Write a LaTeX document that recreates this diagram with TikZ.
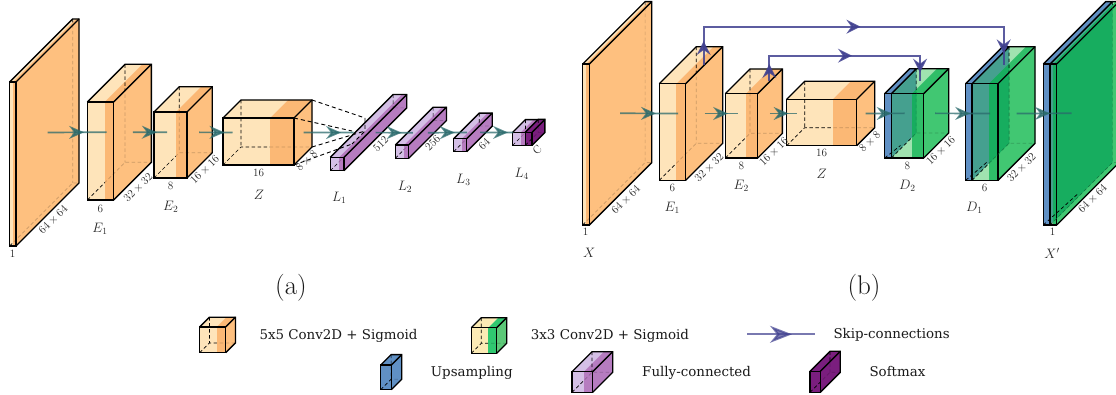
\documentclass[tikz,border=0pt]{standalone}
\usepackage{fontspec}
\newfontfamily\legendfont{DejaVu Serif}
\usetikzlibrary{arrows.meta, decorations.markings}
\definecolor{convlight}{HTML}{FEE4BA}
\definecolor{convdark}{HTML}{FBB875}
\definecolor{convside}{HTML}{FEC07F}
\definecolor{greenlight}{HTML}{A0E3B0}
\definecolor{greendark}{HTML}{2FBE68}
\definecolor{greenside}{HTML}{41C772}
\definecolor{mixlight}{HTML}{45A08F}
\definecolor{mixdark}{HTML}{17AD5F}
\definecolor{mixside}{HTML}{17AD5F}
\definecolor{keylight}{HTML}{FCEBB5}
\definecolor{keydark}{HTML}{30C870}
\definecolor{keyside}{HTML}{5CC878}
\definecolor{fclight}{HTML}{D4BFE6}
\definecolor{fcdark}{HTML}{B67CC0}
\definecolor{fcside}{HTML}{B67CC0}
\definecolor{softlight}{HTML}{7A1E7E}
\definecolor{softdark}{HTML}{7A1E7E}
\definecolor{softside}{HTML}{7A1E7E}
\definecolor{uplight}{HTML}{6090C4}
\definecolor{updark}{HTML}{6090C4}
\definecolor{upside}{HTML}{6090C4}
\definecolor{flowcol}{HTML}{2A6A6C}
\definecolor{skipcol}{HTML}{40408F}

% faces: x, y, width, height, depth, split, colour family
\newcommand{\cuboidfaces}[7]{
    \fill[#7light] (#1,#2) rectangle (#1+#6,#2+#4);
    \fill[#7light] (#1,#2) -- (#1+#6,#2) -- (#1+#6+#5,#2-#5) -- (#1+#5,#2-#5) -- cycle;
    \fill[#7dark] (#1+#6,#2) rectangle (#1+#3,#2+#4);
    \fill[#7dark] (#1+#6,#2) -- (#1+#3,#2) -- (#1+#3+#5,#2-#5) -- (#1+#6+#5,#2-#5) -- cycle;
    \fill[#7side] (#1+#3,#2) -- (#1+#3+#5,#2-#5) -- (#1+#3+#5,#2+#4-#5) -- (#1+#3,#2+#4) -- cycle;
    \draw[hidden] (#1,#2+#4) -- (#1+#5,#2+#4-#5) -- (#1+#3+#5,#2+#4-#5) (#1+#5,#2-#5) -- (#1+#5,#2+#4-#5);
    \fill[#7dark, opacity=0.8] (#1+#6,#2) rectangle (#1+#3,#2+#4);
    \fill[#7side, opacity=0.8] (#1+#3,#2) -- (#1+#3+#5,#2-#5) -- (#1+#3+#5,#2+#4-#5) -- (#1+#3,#2+#4) -- cycle;
}
% edges: x, y, width, height, depth
\newcommand{\cuboidedges}[5]{
    \draw[edge] (#1,#2) rectangle (#1+#3,#2+#4);
    \draw[edge] (#1,#2) -- (#1+#5,#2-#5) -- (#1+#3+#5,#2-#5) -- (#1+#3+#5,#2+#4-#5) -- (#1+#3,#2+#4);
    \draw[edge] (#1+#3,#2) -- (#1+#3+#5,#2-#5);
}
% name, x, y, width, height, depth, split, colour family
\newcommand{\cuboid}[8]{
    \cuboidfaces{#2}{#3}{#4}{#5}{#6}{#7}{#8}
    \cuboidedges{#2}{#3}{#4}{#5}{#6}
    \coordinate (#1) at (#2+#4/2+#6/2,#3+#5/2-#6/2);
    \coordinate (#1-a) at (#2+#4,#3);
    \coordinate (#1-b) at (#2+#4+#6,#3-#6);
    \coordinate (#1-c) at (#2+#4+#6,#3+#5-#6);
    \coordinate (#1-d) at (#2+#4,#3+#5);
}
% name, x, y, plate width, green width, height, depth, split
\newcommand{\upcuboid}[8]{
    \cuboid{#1}{#2+#4}{#3}{#5}{#6}{#7}{#8}{green}
    \begin{scope}
        \clip (#2+#4,#3) -- (#2+#4+#7,#3-#7) -- (#2+#4+#7,#3+#6-#7) -- (#2+#4,#3+#6) -- cycle;
        \cuboidfaces{#2+#4}{#3}{#5}{#6}{#7}{#8}{mix}
        \cuboidedges{#2+#4}{#3}{#5}{#6}{#7}
    \end{scope}
    \fill[uplight] (#2,#3) rectangle (#2+#4,#3+#6);
    \fill[uplight] (#2,#3) -- (#2+#4,#3) -- (#2+#4+#7,#3-#7) -- (#2+#7,#3-#7) -- cycle;
    \draw[hidden] (#2,#3+#6) -- (#2+#4/2+#7/2,#3+#6-#7/2);
    \draw[edge] (#2,#3) rectangle (#2+#4,#3+#6);
    \draw[edge] (#2,#3) -- (#2+#7,#3-#7) -- (#2+#4+#7,#3-#7) (#2+#4,#3) -- (#2+#4+#7,#3-#7);
}

\begin{document}
\begin{tikzpicture}[
    x=1pt, y=-1pt,
    edge/.style={draw=black, line width=1.35pt, line join=miter},
    hidden/.style={draw=black, line width=0.7pt, dash pattern=on 3.5pt off 2.5pt},
    funnel/.style={draw=black, line width=0.9pt, dash pattern=on 4pt off 3pt},
    flow/.style={draw=flowcol, line width=1.7pt, opacity=0.75,
        postaction={decorate, decoration={markings,
            mark=at position #1 with {\arrow[flowcol]{Stealth[length=15pt, width=13pt, inset=5pt]}}}}},
    skip/.style n args={3}{draw=skipcol, line width=1.8pt, opacity=0.85,
        postaction={decorate, decoration={markings,
            mark=at position #1pt with {\arrow[skipcol]{Stealth[length=14pt, width=14pt, inset=5pt]}},
            mark=at position #2pt with {\arrow[skipcol]{Stealth[length=14pt, width=14pt, inset=5pt]}},
            mark=at position #3pt with {\arrow[skipcol]{Stealth[length=14pt, width=14pt, inset=5pt]}}}}},
    skipkey/.style={draw=skipcol, line width=2pt, opacity=0.7,
        postaction={decorate, decoration={markings,
            mark=at position 0.66 with {\arrow[skipcol]{Stealth[length=22pt, width=17pt, inset=7pt]}}}}},
    lbl/.style={font=\Large, text=black!85, inner sep=0pt, scale=0.78},
    dim/.style={lbl, rotate=45},
    title/.style={font=\Large, text=black!85, inner sep=0pt, scale=0.95},
    sub/.style={font=\fontsize{27}{32}\selectfont, text=black!90, inner sep=0pt},
    key/.style={font=\legendfont\fontsize{13.4}{16}\selectfont, text=black!90, anchor=base west, inner sep=0pt},
]
\clip (0,0) rectangle (1116,395);

% ===== (a) classifier =====
\cuboid{aX}{9.7}{82}{6.3}{164}{63}{3.3}{conv}
\cuboid{aE1}{87.3}{102}{26.4}{98}{37.7}{17.4}{conv}
\cuboid{aE2}{154}{112}{33}{66}{25.3}{22}{conv}
\cuboid{aZ}{223}{118}{71}{47}{18}{47}{conv}
\cuboid{aL1}{330.3}{157.3}{13.7}{13.4}{62.8}{8.7}{fc}
\cuboid{aL2}{395.3}{145}{13.4}{13.3}{37.8}{8.7}{fc}
\cuboid{aL3}{453.7}{138.7}{13}{13}{25.6}{8.3}{fc}
\cuboid{aL4}{512.7}{132.3}{12.6}{13}{12.7}{8}{fc}
\cuboid{aC}{525.3}{132.3}{6.7}{13}{12.9}{6.7}{soft}

% --- funnel from Z into L1 ---
\coordinate (slicea) at (365,118);
\coordinate (sliceb) at (352,131);
\coordinate (slicec) at (365,131);
\coordinate (sliced) at (352,144);
\draw[funnel] (aZ-b) -- (slicea);
\draw[funnel] (aZ-a) -- (sliceb);
\draw[funnel] (aZ-c) -- (slicec);
\draw[funnel] (aZ-d) -- (sliced);
\draw[funnel] (slicea) -- (slicec) -- (sliced);

% arrows
\draw[flow=0.62] ([xshift=3.2pt]aX) -- ([xshift=-12.8pt]aE1);
\draw[flow=0.7] ([xshift=13.5pt]aE1) -- ([xshift=-16pt]aE2);
\draw[flow=0.76] ([xshift=16pt]aE2) -- ([xshift=-35pt]aZ);
\draw[flow=0.75] ([xshift=36pt]aZ) -- ([xshift=-15pt]aL1);
\draw[flow=0.7] ([xshift=7pt]aL1) -- ([xshift=-8pt]aL2);
\draw[flow=0.69] ([xshift=7pt]aL2) -- ([xshift=-6pt]aL3);
\draw[flow=0.84] ([xshift=7pt]aL3) -- ([xshift=-12pt]aL4);

% labels
\node[lbl] (aX1) at (12.7,254) {$1$};
\node[dim] (aX2) at (53.3,220) {$64\times 64$};
\node[lbl] (aE11) at (100.3,208.7) {$6$};
\node[dim] (aE12) at (138.3,187.7) {$32\times 32$};
\node[title] (aE13) at (100,229) {$E_1$};
\node[lbl] (aE21) at (170.7,186) {$8$};
\node[dim] (aE22) at (205,170) {$16\times 16$};
\node[title] (aE23) at (170.7,206.7) {$E_2$};
\node[lbl] (aZ1) at (258.7,173) {$16$};
\node[title] (aZ2) at (259,194.7) {$Z$};
\node[dim] (aZ3) at (306.7,161) {$8\times 8$};
\node[title] (aL11) at (339.3,198.3) {$L_1$};
\node[dim] (aL12) at (380.7,144) {$512$};
\node[title] (aL21) at (405,186.7) {$L_2$};
\node[dim] (aL22) at (432.7,142.7) {$256$};
\node[title] (aL31) at (463.3,180) {$L_3$};
\node[dim] (aL32) at (484.3,144) {$64$};
\node[title] (aL41) at (521.7,174.3) {$L_4$};
\node[dim] (aL42) at (537.3,150) {C};
\node[sub] (suba) at (291,288) {(a)};

% ===== (b) autoencoder =====
\cuboid{bX}{582.7}{64}{6.6}{161}{62.4}{3.3}{conv}
\cuboid{bE1}{659.3}{83.7}{26.4}{96.6}{37}{17}{conv}
\cuboid{bE2}{725.3}{93.7}{32.4}{64.3}{24.7}{20.7}{conv}
\cuboid{bZ}{786.7}{99.3}{70}{46.4}{18}{46}{conv}
\upcuboid{bD2}{884.7}{93.7}{6.6}{32.4}{64.3}{25}{20.7}
\upcuboid{bD1}{965.7}{83.7}{6.3}{26}{96.6}{37}{17}
\upcuboid{bY}{1043.3}{64}{6.7}{6.7}{161}{62.4}{3.3}

% arrows
\draw[flow=0.62] ([xshift=3pt]bX) -- ([xshift=-13pt]bE1);
\draw[flow=0.71] ([xshift=13.5pt]bE1) -- ([xshift=-16pt]bE2);
\draw[flow=0.7] ([xshift=16pt]bE2) -- ([xshift=-34pt]bZ);
\draw[flow=0.67] ([xshift=35pt]bZ) -- ([xshift=-15.5pt]bD2);
\draw[flow=0.64] ([xshift=15pt]bD2) -- ([xshift=-13.5pt]bD1);
\draw[flow=0.61] ([xshift=13pt]bD1) -- ([xshift=-13pt]bY);

% skip connections
\coordinate (skipaS) at (703.7,65);
\coordinate (skipaE) at (1003.7,65);
\coordinate (skipbS) at (769.3,81);
\coordinate (skipbE) at (920,81);
\draw[skip={24}{195}{365}] (skipaS) -- ++(0,-38.3) -| (skipaE);
\draw[skip={17}{108}{193}] (skipbS) -- ++(0,-25.3) -| (skipbE);

% labels
\node[lbl] (bX1) at (585.7,232.3) {$1$};
\node[title] (bX3) at (589.3,253.3) {$X$};
\node[dim] (bX2) at (626,200) {$64\times 64$};
\node[lbl] (bE11) at (672.3,188.3) {$6$};
\node[dim] (bE12) at (709.3,167.7) {$32\times 32$};
\node[title] (bE13) at (672.3,208.3) {$E_1$};
\node[lbl] (bE21) at (741.3,165.7) {$8$};
\node[dim] (bE22) at (774,151.7) {$16\times 16$};
\node[title] (bE23) at (741.3,186) {$E_2$};
\node[lbl] (bZ1) at (821.7,153.3) {$16$};
\node[title] (bZ2) at (821.7,174) {$Z$};
\node[dim] (bZ3) at (870,141.7) {$8\times 8$};
\node[lbl] (bD21) at (907.3,165.7) {$8$};
\node[dim] (bD22) at (941,151) {$16\times 16$};
\node[title] (bD23) at (907.3,186) {$D_2$};
\node[lbl] (bD11) at (984.7,188.3) {$6$};
\node[dim] (bD12) at (1021.7,167.7) {$32\times 32$};
\node[title] (bD13) at (974.3,208.3) {$D_1$};
\node[lbl] (bY1) at (1052.7,232.3) {$1$};
\node[title] (bY3) at (1052,253.3) {$X'$};
\node[dim] (bY2) at (1092.7,199) {$64\times 64$};
\node[sub] (subb) at (864,288) {(b)};

% ===== legend =====
\cuboid{kconv}{199.7}{327}{26}{25.7}{9.8}{17}{conv}
\node[key] (kconvt) at (259.3,339) {5x5 Conv2D + Sigmoid};
\cuboid{kgreen}{471.3}{327.7}{25.4}{25.6}{10}{17}{key}
\node[key] (kgreent) at (530.7,339) {3x3 Conv2D + Sigmoid};
\coordinate (kskipS) at (747.3,334.3);
\coordinate (kskipE) at (815,334.3);
\draw[skipkey] (kskipS) -- (kskipE);
\node[key] (kskipt) at (833.3,338.3) {Skip-connections};
\cuboid{kup}{380.7}{365}{10.6}{24.7}{10.4}{10.6}{up}
\node[key] (kupt) at (430.7,376) {Upsampling};
\cuboid{kfc}{572}{371.7}{20.7}{20.6}{20}{12}{fc}
\node[key] (kfct) at (642,376) {Fully-connected};
\cuboid{ksoft}{810}{371.3}{10.3}{21}{20}{10.3}{soft}
\node[key] (ksoftt) at (869.3,376) {Softmax};
\end{tikzpicture}
\end{document}
